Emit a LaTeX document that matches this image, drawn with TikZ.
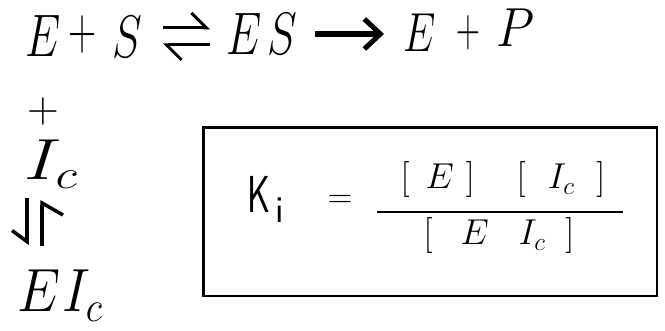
\RequirePackage{fix-cm}
\documentclass[tikz,border=0pt]{standalone}
\usepackage{graphicx}
\usetikzlibrary{arrows.meta,calc}
\newcommand\sqzglyph[2][0.75]{\scalebox{#1}[1]{#2}}
\begin{document}
\begin{tikzpicture}[x=1pt,y=-1pt,
  glyph/.style={inner sep=0pt, anchor=base},
  bigfont/.style={glyph, font=\fontsize{60}{60}\selectfont},
  rowfont/.style={glyph, font=\fontsize{55}{55}\selectfont},
  midfont/.style={glyph, font=\fontsize{36}{36}\selectfont},
  harp/.style={line width=3pt, -{Straight Barb[harpoon, length=15pt, width=30pt, line width=3pt]}},
  harpdn/.style={line width=3.5pt, -{Straight Barb[harpoon, swap, length=11pt, width=30pt, line width=3.5pt]}},
  harpup/.style={line width=3.5pt, -{Straight Barb[harpoon, swap, length=12pt, width=42pt, line width=3.5pt]}},
  fwd/.style={line width=6pt, -{Straight Barb[length=16pt, width=30pt, line width=5pt]}},
  frame/.style={draw, line width=2.6pt, inner sep=0pt, minimum width=453.5pt, minimum height=168.5pt}]
\useasboundingbox (0,0) rectangle (665,331);
% top reaction row
\node[bigfont] (E1) at (43,57) {\sqzglyph{$E$}};
\node[bigfont] (p1) at (83,50) {\sqzglyph[0.65]{$+$}};
\node[bigfont] (S1) at (127,58) {\sqzglyph{$S$}};
\node[bigfont] (ES) at (262,55) {\sqzglyph{$E\hspace{8pt}S$}};
\node[rowfont] (E2) at (420,52) {\sqzglyph{$E$}};
\node[rowfont] (p2) at (468,47) {\sqzglyph[0.6]{$+$}};
\node[rowfont] (P) at (515,47) {\sqzglyph[0.9]{$P$}};
\draw[harp] ($(S1.base)+(36,-30)$) -- ($(ES.base)+(-52,-27)$);
\draw[harp] ($(ES.base)+(-52,-10)$) -- ($(S1.base)+(36,-13)$);
\draw[fwd] ($(ES.base)+(53,-21)$) -- ($(E2.base)+(-36,-18)$);
% inhibitor column
\node[glyph, font=\fontsize{44}{44}\selectfont] (p0) at (43,123) {$+$};
\node[bigfont, font=\fontsize{58}{58}\selectfont] (Ic) at (51,180) {\sqzglyph[1.25]{$I_c$}};
\node[bigfont, font=\fontsize{61}{61}\selectfont] (EIc) at (60,312) {\sqzglyph[0.9]{$E\hspace{2pt}I_c$}};
\draw[harpdn] ($(Ic.base)+(-24,18)$) -- ($(EIc.base)+(-33,-67)$);
\draw[harpup] ($(EIc.base)+(-18,-66)$) -- ($(Ic.base)+(-9,20)$);
% dissociation constant box
\node[frame] (box) at (430.25,211.75) {};
\node[glyph, font=\sffamily\fontsize{52}{52}\selectfont] (Ki) at (266,213)
  {\sqzglyph[0.68]{K}\hspace{5pt}{\fontsize{38}{38}\selectfont\raisebox{-10pt}{i}}};
\node[glyph, font=\fontsize{34}{34}\selectfont, anchor=center] (eq) at (340,201) {$=$};
\node[midfont] (num) at (503,189)
  {$[\hspace{16pt}E\hspace{12pt}]\hspace{42pt}[\hspace{22pt}I_c\hspace{22pt}]$};
\node[midfont] (den) at (499,245)
  {$[\hspace{28pt}E\hspace{30pt}I_c\hspace{20pt}]$};
\coordinate (fl) at (377,212);
\coordinate (fr) at (623,212);
\draw[line width=2.5pt] (fl) -- (fr);
\end{tikzpicture}
\end{document}
